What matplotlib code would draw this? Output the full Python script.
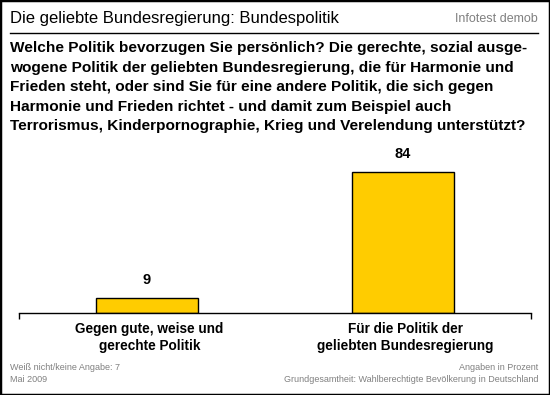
import matplotlib
matplotlib.use("Agg")
import matplotlib.pyplot as plt
from matplotlib.lines import Line2D
from matplotlib.patches import Rectangle

plt.rcParams['font.family'] = ['Liberation Sans', 'DejaVu Sans']

title = "Die geliebte Bundesregierung: Bundespolitik"
source = "Infotest demob"
question = [
    "Welche Politik bevorzugen Sie persönlich? Die gerechte, sozial ausge-",
    "wogene Politik der geliebten Bundesregierung, die für Harmonie und",
    "Frieden steht, oder sind Sie für eine andere Politik, die sich gegen",
    "Harmonie und Frieden richtet - und damit zum Beispiel auch",
    "Terrorismus, Kinderpornographie, Krieg und Verelendung unterstützt?",
]
categories = ["Gegen gute, weise und\ngerechte Politik",
              "Für die Politik der\ngeliebten Bundesregierung"]
values = [9, 84]
foot_left = ["Weiß nicht/keine Angabe: 7", "Mai 2009"]
foot_right = ["Angaben in Prozent",
              "Grundgesamtheit: Wahlberechtigte Bevölkerung in Deutschland"]

W, H = 550, 395
fig = plt.figure(figsize=(W / 100, H / 100), dpi=100)

def fx(px):
    return px / W

def fy(py):
    return 1 - py / H

# border
fig.patches.append(Rectangle((0, 0), 1, 1, transform=fig.transFigure,
                             fill=False, edgecolor='black', linewidth=2.5))

# title
fig.text(fx(10), fy(18), title, fontsize=12, color='black',
         ha='left', va='center')
fig.text(fx(538), fy(19), source, fontsize=9, color='#808080',
         ha='right', va='center')
fig.lines.append(Line2D([fx(10), fx(538)], [fy(33), fy(33)],
                        transform=fig.transFigure, color='black', linewidth=1))

# question
for i, line in enumerate(question):
    fig.text(fx(10), fy(48 + i * 19.6), line, fontsize=11.1,
             fontweight='bold', ha='left', va='center')

# bar chart
ax = fig.add_axes([fx(19), fy(313), fx(531) - fx(19), fy(140) - fy(313)])
x = list(range(len(values)))
ax.bar(x, values, width=0.4, color='#FFCC00', edgecolor='black', linewidth=1)
ax.set_xlim(-0.5, 1.5)
ax.set_ylim(0, 103)
for xi, v in zip(x, values):
    ax.annotate(str(v), (xi, v), xytext=(0, 13), textcoords='offset points',
                ha='center', va='center', fontsize=10.5, fontweight='bold')
for s in ['top', 'right', 'left']:
    ax.spines[s].set_visible(False)
ax.spines['bottom'].set_linewidth(1)
ax.set_yticks([])
ax.set_xticks([-0.5, 1.5])
ax.set_xticklabels([])
ax.tick_params(axis='x', direction='out', length=4, width=1, color='black')
ax.patch.set_visible(False)
for xi, c in zip(x, categories):
    ax.text(xi + 0.01, -5.5, c, ha='center', va='top', fontsize=9.8,
            fontweight='bold', linespacing=1.22)

# footnotes
for i, t in enumerate(foot_left):
    fig.text(fx(10), fy(368 + i * 12), t, fontsize=6.5, color='#808080',
             ha='left', va='center')
for i, t in enumerate(foot_right):
    fig.text(fx(538), fy(368 + i * 12), t, fontsize=6.5, color='#808080',
             ha='right', va='center')

fig.savefig('out.png', dpi=100)
